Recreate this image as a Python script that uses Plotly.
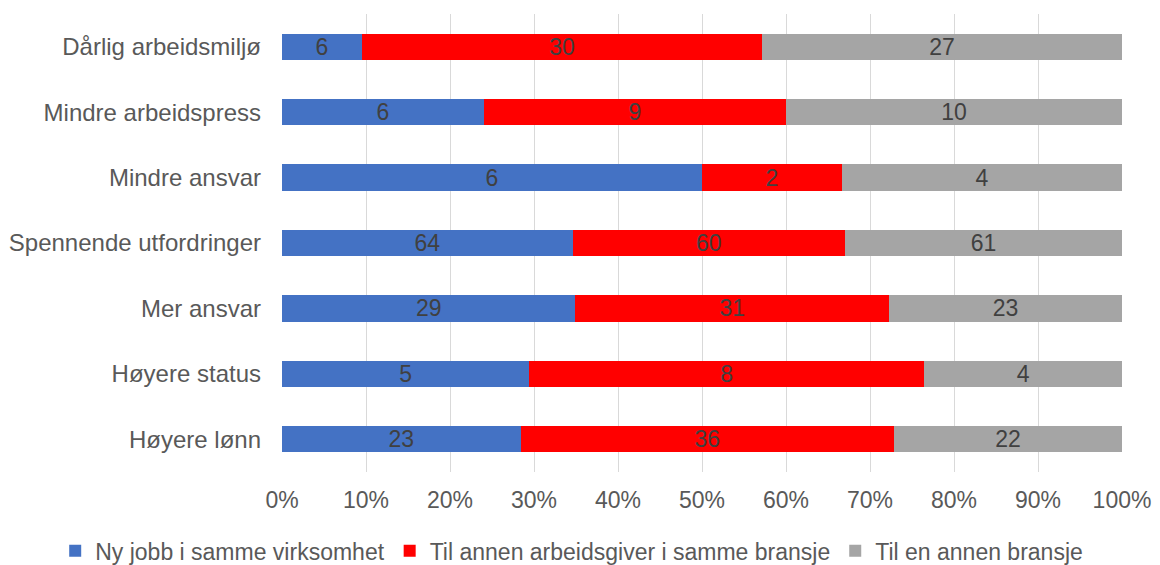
import plotly.graph_objects as go

categories = [
    "Høyere lønn",
    "Høyere status",
    "Mer ansvar",
    "Spennende utfordringer",
    "Mindre ansvar",
    "Mindre arbeidspress",
    "Dårlig arbeidsmiljø",
]
series_names = [
    "Ny jobb i samme virksomhet",
    "Til annen arbeidsgiver i samme bransje",
    "Til en annen bransje",
]
ny_jobb = [23, 5, 29, 64, 6, 6, 6]
annen_arbeidsgiver = [36, 8, 31, 60, 2, 9, 30]
annen_bransje = [22, 4, 23, 61, 4, 10, 27]
colors = ["#4472C4", "#FF0000", "#A5A5A5"]
tick_vals = [0, 10, 20, 30, 40, 50, 60, 70, 80, 90, 100]
tick_text = [f"{v}%" for v in tick_vals]

font_family = "Liberation Sans, Arial, sans-serif"
fs = 23

fig = go.Figure()
for name, vals, col in zip(series_names, [ny_jobb, annen_arbeidsgiver, annen_bransje], colors):
    fig.add_trace(go.Bar(
        y=categories,
        x=vals,
        name=name,
        orientation="h",
        marker=dict(color=col, line=dict(width=0)),
        text=[str(v) for v in vals],
        textposition="inside",
        insidetextanchor="middle",
        textangle=0,
        constraintext="none",
        textfont=dict(family=font_family, size=fs, color="#404040"),
        hoverinfo="name+x",
    ))

fig.update_layout(
    barmode="stack",
    barnorm="percent",
    bargap=0.6,
    width=1160,
    height=565,
    margin=dict(l=282, r=38, t=14, b=93, autoexpand=False),
    paper_bgcolor="white",
    plot_bgcolor="white",
    font=dict(family=font_family, size=fs, color="#595959"),
    uniformtext=dict(mode=False),
    xaxis=dict(
        range=[0, 100],
        tickvals=tick_vals,
        ticktext=tick_text,
        showgrid=True,
        gridcolor="#D9D9D9",
        gridwidth=1,
        zeroline=False,
        showline=False,
        ticks="",
        ticklabelstandoff=12,
        tickfont=dict(size=fs, color="#595959"),
    ),
    yaxis=dict(
        categoryorder="array",
        categoryarray=categories,
        showgrid=False,
        showline=False,
        ticks="",
        ticklabelstandoff=20,
        tickfont=dict(size=24, color="#595959"),
    ),
    legend=dict(
        orientation="h",
        x=-0.27,
        xanchor="left",
        y=-0.125,
        yanchor="top",
        font=dict(size=fs, color="#595959"),
        itemwidth=30,
        entrywidthmode="pixels",
        traceorder="normal",
        bgcolor="rgba(0,0,0,0)",
    ),
)

fig.write_html("out.html")
